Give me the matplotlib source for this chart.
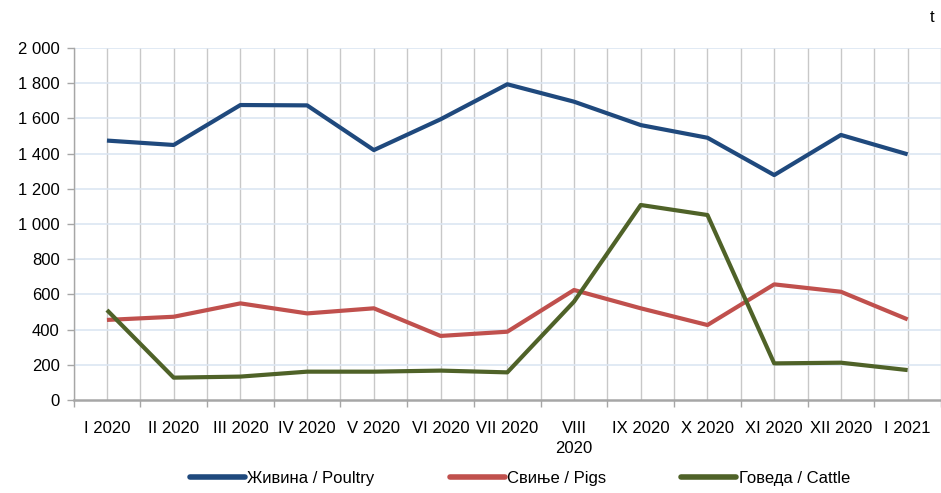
import matplotlib
matplotlib.use("Agg")
import matplotlib.pyplot as plt
from matplotlib.ticker import FuncFormatter, FixedLocator

plt.rcParams['font.family'] = ['Liberation Sans', 'DejaVu Sans']

categories = ["I 2020", "II 2020", "III 2020", "IV 2020", "V 2020", "VI 2020", "VII 2020",
              "VIII\n2020", "IX 2020", "X 2020", "XI 2020", "XII 2020", "I 2021"]
poultry = [1474, 1449, 1676, 1674, 1420, 1595, 1794, 1695, 1562, 1490, 1278, 1506, 1396]
pigs = [455, 473, 549, 492, 521, 364, 388, 625, 521, 426, 657, 615, 458]
cattle = [511, 127, 133, 161, 161, 167, 157, 559, 1108, 1051, 208, 212, 170]
series_names = ["Живина / Poultry", "Свиње / Pigs", "Говеда / Cattle"]
colors = ["#1F497D", "#C0504D", "#4F6228"]
yticks = list(range(0, 2001, 200))

FS = 12

fig = plt.figure(figsize=(9.41, 4.93), dpi=100)
ax = fig.add_axes([73.6/941, 1-400/493, 1-73.6/941, (400-48)/493])

x = list(range(len(categories)))
for vals, name, c in zip([poultry, pigs, cattle], series_names, colors):
    ax.plot(x, vals, color=c, lw=3.0, label=name, solid_capstyle='butt', zorder=3)

ax.set_xlim(-0.5, len(categories) - 0.5)
ax.set_ylim(0, 2000)

bounds = [i - 0.5 for i in range(len(categories) + 1)]
ax.xaxis.set_major_locator(FixedLocator(bounds))
ax.xaxis.set_minor_locator(FixedLocator(x))
ax.set_xticklabels([""] * len(bounds))
ax.set_xticklabels(categories, minor=True, va='top', ha='center', linespacing=1.4)
ax.tick_params(axis='x', which='major', length=5, width=1, color='#A6A6A6', direction='out')
ax.tick_params(axis='x', which='minor', length=0, pad=15, labelsize=FS, labelcolor='#000000')

ax.set_yticks(yticks)
ax.yaxis.set_major_formatter(FuncFormatter(lambda v, p: f"{int(v):,}".replace(",", " ")))
ax.tick_params(axis='y', length=5, width=1, color='#A6A6A6', direction='out', pad=5,
               labelsize=FS, labelcolor='#000000')

for b in bounds + x:
    ax.axvline(b, color='#C8C8C8', lw=1.0, zorder=1)
for yv in yticks[1:]:
    ax.axhline(yv, color='#DCE6F2', lw=1.2, zorder=1)

for s in ['top', 'right']:
    ax.spines[s].set_visible(False)
ax.spines['left'].set_color('#A6A6A6')
ax.spines['left'].set_linewidth(1.0)
ax.spines['bottom'].set_color('#A6A6A6')
ax.spines['bottom'].set_linewidth(1.8)
ax.spines['bottom'].set_zorder(4)

fig.text(932/941, 1-18/493, "t", fontsize=FS, ha='center', va='center')

leg = fig.legend(loc='center', bbox_to_anchor=(520/941, 1-478/493), ncol=3, frameon=False,
                 fontsize=FS, handlelength=3.3, handletextpad=0.15, columnspacing=4.5,
                 borderaxespad=0)
for h in leg.get_lines():
    h.set_linewidth(4)
    h.set_solid_capstyle('round')

fig.savefig("out.png", dpi=100)
